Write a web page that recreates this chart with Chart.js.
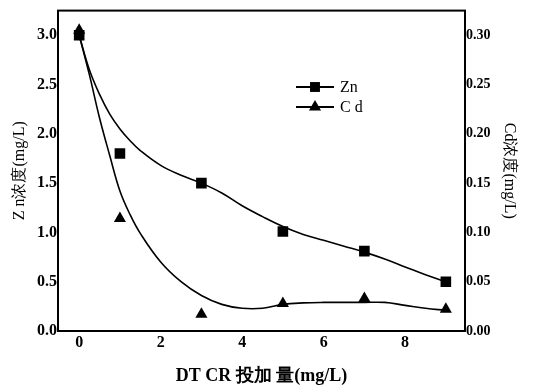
<!DOCTYPE html>
<html>
<head>
<meta charset="utf-8">
<script src="https://cdn.jsdelivr.net/npm/chart.js@4.4.0/dist/chart.umd.min.js"></script>
<style>
  html, body { margin: 0; padding: 0; background: #fff; }
  #wrap { width: 533px; height: 391px; }
</style>
</head>
<body>
<div id="wrap"><canvas id="chart"></canvas></div>
<script>
// measured points
const doseX = [0, 1, 3, 5, 7, 9];
const znValues = [3.0, 1.8, 1.5, 1.01, 0.81, 0.5];
const cdValues = [0.305, 0.114, 0.017, 0.028, 0.033, 0.022];

// fitted curves
const curveX = [0, 0.25, 0.5, 0.75, 1, 1.25, 1.5, 2, 2.5, 3, 3.5, 4, 4.5, 5, 5.5, 6, 6.5, 7, 7.5, 8, 8.5, 9];
const znCurve = [3.0, 2.65, 2.4, 2.2, 2.05, 1.93, 1.83, 1.68, 1.58, 1.5, 1.4, 1.27, 1.16, 1.06, 0.98, 0.92, 0.86, 0.8, 0.73, 0.65, 0.57, 0.5];
const cdCurve = [0.30, 0.26, 0.216, 0.178, 0.142, 0.118, 0.099, 0.070, 0.050, 0.036, 0.027, 0.023, 0.023, 0.027, 0.0285, 0.029, 0.029, 0.029, 0.029, 0.026, 0.023, 0.021];

const xTicks = [0, 2, 4, 6, 8];
const znTicks = [0, 0.5, 1.0, 1.5, 2.0, 2.5, 3.0];
const cdTicks = [0, 0.05, 0.10, 0.15, 0.20, 0.25, 0.30];

const pts = (xs, ys) => xs.map((x, i) => ({ x: x, y: ys[i] }));

const tickFont = { family: 'Liberation Serif', size: 16, weight: 'bold' };

// frame + legend drawn inside the plot
const framePlugin = {
    id: 'frame',
    afterDraw(chart) {
        const { ctx, chartArea: a } = chart;
        ctx.save();
        ctx.strokeStyle = '#000';
        ctx.lineWidth = 2;
        ctx.strokeRect(a.left, a.top, a.right - a.left, a.bottom - a.top);

        const items = [
            { label: 'Zn', style: 'rect', r: 7, y: 87 },
            { label: 'C d', style: 'triangle', r: 7, y: 107 }
        ];
        items.forEach(it => {
            ctx.lineWidth = 2;
            ctx.beginPath();
            ctx.moveTo(296, it.y);
            ctx.lineTo(334, it.y);
            ctx.stroke();
            ctx.fillStyle = '#000';
            Chart.helpers.drawPoint(ctx, { pointStyle: it.style, radius: it.r, borderWidth: 0 }, 315, it.y);
            ctx.font = '16px "Liberation Serif"';
            ctx.textBaseline = 'middle';
            ctx.fillText(it.label, 340, it.y + 1);
        });
        ctx.restore();
    }
};

new Chart(document.getElementById('chart'), {
    type: 'line',
    data: {
        datasets: [
            {
                label: 'Zn fit',
                data: pts(curveX, znCurve),
                yAxisID: 'y',
                borderColor: '#000',
                borderWidth: 1.6,
                pointRadius: 0,
                tension: 0.4
            },
            {
                label: 'Cd fit',
                data: pts(curveX, cdCurve),
                yAxisID: 'y1',
                borderColor: '#000',
                borderWidth: 1.6,
                pointRadius: 0,
                tension: 0.4
            },
            {
                label: 'Zn',
                data: pts(doseX, znValues),
                yAxisID: 'y',
                showLine: false,
                pointStyle: 'rect',
                pointRadius: 7.5,
                backgroundColor: '#000',
                borderColor: '#000',
                borderWidth: 0
            },
            {
                label: 'Cd',
                data: pts(doseX, cdValues),
                yAxisID: 'y1',
                showLine: false,
                pointStyle: 'triangle',
                pointRadius: 7,
                backgroundColor: '#000',
                borderColor: '#000',
                borderWidth: 0
            }
        ]
    },
    options: {
        responsive: true,
        maintainAspectRatio: false,
        animation: false,
        layout: { padding: { top: 6 } },
        plugins: {
            legend: { display: false },
            tooltip: { enabled: false }
        },
        scales: {
            x: {
                type: 'linear',
                min: -0.52,
                max: 9.47,
                afterFit: s => { s.height = 60; },
                afterBuildTicks: s => { s.ticks = xTicks.map(v => ({ value: v })); },
                grid: { display: false, drawTicks: false },
                border: { display: false },
                ticks: { color: '#000', font: tickFont, padding: 2 },
                title: {
                    display: true,
                    text: 'DT CR 投加 量(mg/L)',
                    color: '#000',
                    font: { family: 'Liberation Serif', size: 18, weight: 'bold' },
                    padding: { top: 0, bottom: 4 }
                }
            },
            y: {
                position: 'left',
                min: 0,
                max: 3.25,
                afterFit: s => { s.width = 58; },
                afterBuildTicks: s => { s.ticks = znTicks.map(v => ({ value: v })); },
                grid: { display: false, drawTicks: false },
                border: { display: false },
                ticks: { color: '#000', font: tickFont, padding: 1, callback: v => v.toFixed(1) },
                title: {
                    display: true,
                    text: 'Z n浓度(mg/L)',
                    color: '#000',
                    font: { family: 'Liberation Serif', size: 16 },
                    padding: { top: 10, bottom: 0 }
                }
            },
            y1: {
                position: 'right',
                min: 0,
                max: 0.325,
                afterFit: s => { s.width = 68; },
                afterBuildTicks: s => { s.ticks = cdTicks.map(v => ({ value: v })); },
                grid: { display: false, drawTicks: false },
                border: { display: false },
                ticks: { color: '#000', font: { family: 'Liberation Serif', size: 14, weight: 'bold' }, padding: 1, callback: v => v.toFixed(2) },
                title: {
                    display: true,
                    text: 'Cd浓度(mg/L)',
                    color: '#000',
                    font: { family: 'Liberation Serif', size: 16 },
                    padding: { top: 14, bottom: 0 }
                }
            }
        }
    },
    plugins: [framePlugin]
});
</script>
</body>
</html>
